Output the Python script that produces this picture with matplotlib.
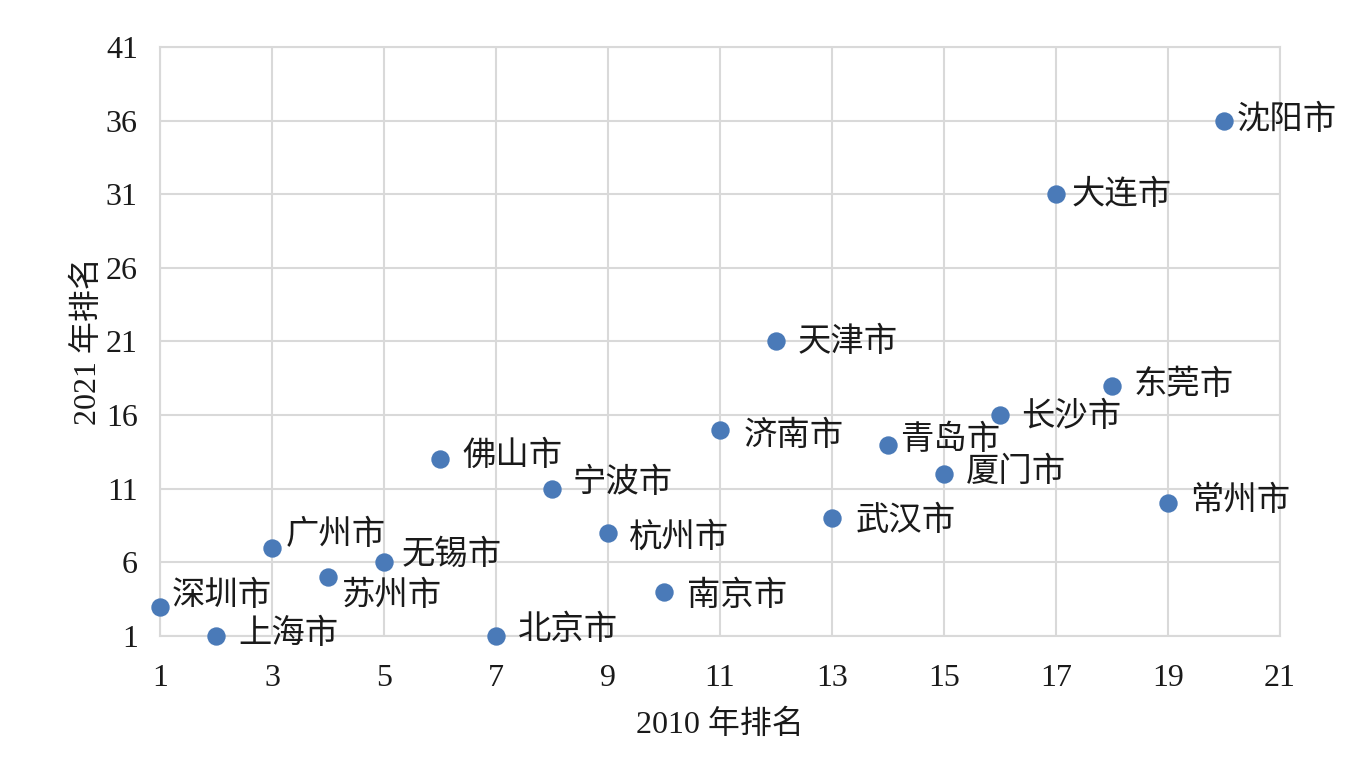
import numpy as np
import matplotlib.pyplot as plt

plt.rcParams['font.family'] = ['Liberation Serif', 'Noto Sans CJK SC', 'DejaVu Sans']

cities = ['深圳市', '上海市', '广州市', '苏州市', '无锡市', '佛山市', '北京市', '宁波市',
          '杭州市', '南京市', '济南市', '天津市', '武汉市', '青岛市', '厦门市', '长沙市',
          '大连市', '东莞市', '常州市', '沈阳市']
rank_2010 = [1, 2, 3, 4, 5, 6, 7, 8, 9, 10, 11, 12, 13, 14, 15, 16, 17, 18, 19, 20]
rank_2021 = [3, 1, 7, 5, 6, 13, 1, 11, 8, 4, 15, 21, 9, 14, 12, 16, 31, 18, 10, 36]

# label offsets in pixels (right, up)
offs = [(12, 10), (22, 2), (14, 12), (14, -19), (18, 7), (22, 3), (22, 6), (21, 5),
        (21, -5), (23, -4), (24, -6), (22, -1), (24, -3), (12, 4), (22, 2), (21, -2),
        (16, -1), (22, 0), (22, 2), (13, 0)]

fig = plt.figure(figsize=(13.71, 7.62), dpi=100)
ax = fig.add_axes([0.1167, 0.1654, 0.8169, 0.7729])

ax.scatter(rank_2010, rank_2021, s=175, color='#4a7ab8', zorder=3, clip_on=False,
           linewidths=0)
for name, x, y, (dx, dy) in zip(cities, rank_2010, rank_2021, offs):
    ax.annotate(name, (x, y), xytext=(dx * 0.72, dy * 0.72), textcoords='offset points',
                ha='left', va='center', fontsize=24, color='#1a1a1a')

ax.set_xlim(1, 21)
ax.set_ylim(1, 41)
ax.set_xticks(np.arange(1, 22, 2))
ax.set_yticks(np.arange(1, 42, 5))
ax.grid(True, color='#d9d9d9', linewidth=1.5)
ax.set_axisbelow(True)
for sp in ax.spines.values():
    sp.set_color('#d9d9d9')
    sp.set_linewidth(1.5)
ax.tick_params(axis='y', length=0, labelsize=23, colors='#1a1a1a', pad=16)
ax.tick_params(axis='x', length=0, labelsize=23, colors='#1a1a1a', pad=20)
ax.set_xlabel('2010 年排名', fontsize=23, color='#1a1a1a', labelpad=12)
ax.set_ylabel('2021 年排名', fontsize=23, color='#1a1a1a', labelpad=2)

fig.savefig('out.png', dpi=100)
